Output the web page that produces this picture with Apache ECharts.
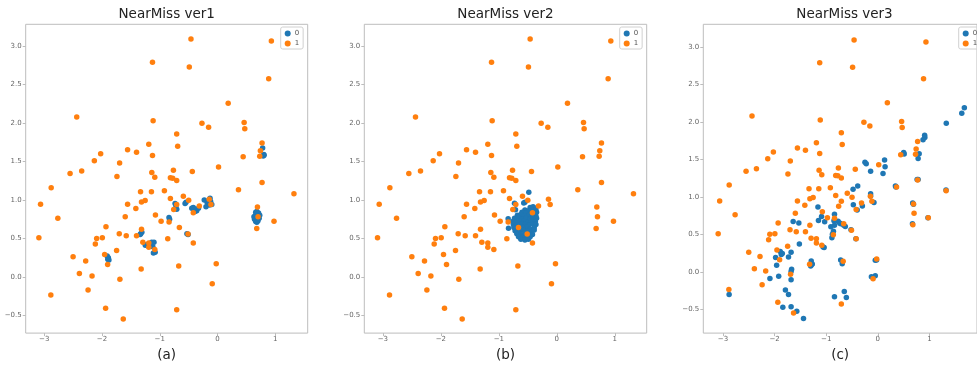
<!DOCTYPE html>
<html>
<head>
<meta charset="utf-8">
<script src="https://cdn.jsdelivr.net/npm/echarts@6/dist/echarts.min.js"></script>
<style>
  html, body { margin: 0; padding: 0; background: #fff; }
  #chart { width: 977px; height: 367px; }
</style>
</head>
<body>
<div id="chart"></div>
<script>
// tick labels and captions
const xTicks = [-3, -2, -1, 0, 1];
const yTicks = [-0.5, 0, 0.5, 1, 1.5, 2, 2.5, 3];
const titles = ["NearMiss ver1", "NearMiss ver2", "NearMiss ver3"];
const captions = ["(a)", "(b)", "(c)"];

// class 1 (minority) - same points in every panel
const class1 = [
  [-1.126, 2.786], [-2.437, 2.077], [-1.115, 2.026], [-1.190, 1.722], [-1.557, 1.650],
  [-1.402, 1.620], [-1.126, 1.577], [-2.023, 1.598], [-2.132, 1.509], [-1.695, 1.479],
  [-2.351, 1.376], [-2.552, 1.342], [-1.138, 1.355], [-1.741, 1.303], [-1.086, 1.295],
  [-2.879, 1.158], [-1.333, 1.107], [-1.144, 1.107], [-0.920, 1.120], [-3.063, 0.944],
  [-1.557, 0.944], [-1.316, 0.974], [-1.253, 0.991], [-1.414, 0.889], [-2.764, 0.761],
  [-1.598, 0.782], [-1.075, 0.803], [-0.977, 0.722], [-1.931, 0.650], [-1.316, 0.620],
  [-1.701, 0.560], [-1.580, 0.534], [-1.402, 0.534], [-3.092, 0.509], [-2.092, 0.500],
  [-1.994, 0.509], [-1.293, 0.449], [-1.190, 0.440], [-2.115, 0.427], [-1.190, 0.385],
  [-1.747, 0.342], [-1.086, 0.355], [-1.954, 0.291], [-2.500, 0.261], [-0.862, 0.496],
  [-2.282, 0.205], [-1.902, 0.162], [-1.322, 0.103], [-2.391, 0.043], [-2.172, 0.013],
  [-1.690, -0.030], [-2.241, -0.171], [-2.885, -0.235], [-1.937, -0.406], [-1.632, -0.547],
  [-0.460, 3.090], [0.931, 3.064], [-0.489, 2.726], [0.885, 2.573], [0.184, 2.256],
  [-0.270, 1.996], [-0.155, 1.944], [0.460, 2.004], [0.471, 1.923], [-0.707, 1.855],
  [-0.690, 1.697], [0.770, 1.739], [0.741, 1.637], [0.730, 1.568], [0.443, 1.560],
  [0.017, 1.427], [-0.764, 1.385], [-0.437, 1.368], [-0.816, 1.286], [-0.776, 1.282],
  [-0.707, 1.252], [0.770, 1.226], [1.322, 1.081], [0.362, 1.132], [-0.592, 1.047],
  [-0.500, 0.996], [-0.816, 1.017], [-0.707, 0.940], [-0.144, 1.009], [-0.115, 0.940],
  [-0.316, 0.919], [-0.759, 0.876], [0.690, 0.906], [-0.420, 0.833], [0.701, 0.782],
  [-0.839, 0.714], [0.977, 0.722], [-0.661, 0.641], [0.678, 0.628], [-0.511, 0.556],
  [-0.420, 0.440], [-0.672, 0.141], [-0.023, 0.171], [-0.092, -0.090], [-0.707, -0.427]
];

// class 0 kept by NearMiss version 1
const ver1Class0 = [
  [-1.91, 0.27], [-1.89, 0.25], [-1.88, 0.22], [-1.90, 0.23],
  [-1.33, 0.56], [-1.31, 0.58], [-1.34, 0.55],
  [-1.25, 0.41], [-1.20, 0.40], [-1.14, 0.45], [-1.10, 0.45], [-1.12, 0.39], [-1.08, 0.32],
  [-1.11, 0.31], [-1.17, 0.42], [-1.22, 0.42],
  [-0.84, 0.77], [-0.83, 0.75],
  [-0.735, 0.953], [-0.706, 0.879], [-0.72, 0.92],
  [-0.562, 0.953], [-0.545, 0.97], [-0.53, 0.56], [-0.51, 0.55],
  [-0.446, 0.89], [-0.42, 0.90], [-0.377, 0.87], [-0.36, 0.86], [-0.39, 0.85], [-0.33, 0.89],
  [-0.40, 0.88],
  [-0.23, 1.00], [-0.18, 0.965], [-0.13, 1.02], [-0.10, 0.94], [-0.20, 0.91], [-0.14, 0.935],
  [-0.16, 0.99], [-0.12, 0.98],
  [0.78, 1.675], [0.80, 1.59], [0.79, 1.57], [0.805, 1.58],
  [0.66, 0.72], [0.68, 0.71], [0.70, 0.73], [0.64, 0.75], [0.72, 0.76], [0.65, 0.79],
  [0.70, 0.79], [0.67, 0.82], [0.71, 0.83], [0.68, 0.85], [0.63, 0.78], [0.73, 0.80],
  [0.69, 0.76], [0.66, 0.84], [0.68, 0.74]
];

// class 0 kept by NearMiss version 2
const ver2Class0 = [
  [-0.483, 1.098], [-0.55, 0.97], [-0.57, 0.96], [-0.73, 0.957], [-0.713, 0.872],
  [-0.839, 0.756], [-0.833, 0.632],
  [-0.46, 0.90], [-0.41, 0.91], [-0.37, 0.89],
  [-0.55, 0.87], [-0.49, 0.86], [-0.44, 0.88], [-0.36, 0.87],
  [-0.60, 0.84], [-0.53, 0.83], [-0.45, 0.85], [-0.39, 0.83], [-0.35, 0.84],
  [-0.68, 0.80], [-0.62, 0.81], [-0.56, 0.79], [-0.48, 0.80], [-0.42, 0.81], [-0.36, 0.79],
  [-0.73, 0.76], [-0.66, 0.77], [-0.60, 0.75], [-0.53, 0.76], [-0.46, 0.75], [-0.40, 0.77], [-0.35, 0.76],
  [-0.76, 0.72], [-0.70, 0.71], [-0.63, 0.73], [-0.57, 0.72], [-0.50, 0.71], [-0.44, 0.73], [-0.37, 0.72],
  [-0.75, 0.68], [-0.68, 0.67], [-0.61, 0.69], [-0.55, 0.68], [-0.48, 0.67], [-0.41, 0.69], [-0.36, 0.68],
  [-0.74, 0.64], [-0.66, 0.63], [-0.59, 0.65], [-0.52, 0.64], [-0.46, 0.62], [-0.39, 0.64],
  [-0.72, 0.60], [-0.64, 0.59], [-0.57, 0.61], [-0.50, 0.60], [-0.43, 0.59], [-0.39, 0.61],
  [-0.69, 0.56], [-0.62, 0.55], [-0.55, 0.57], [-0.48, 0.56], [-0.42, 0.55],
  [-0.66, 0.52], [-0.59, 0.51], [-0.52, 0.53], [-0.46, 0.52],
  [-0.62, 0.49], [-0.55, 0.48], [-0.49, 0.49]
];

// class 0 kept by NearMiss version 3
const ver3Class0 = [
  [-1.16, 0.864], [-1.09, 0.737], [-1.15, 0.684], [-1.03, 0.667], [-0.84, 0.768],
  [-0.85, 0.68], [-0.91, 0.60], [-0.84, 0.62], [-0.88, 0.50], [-0.86, 0.54],
  [-0.89, 0.456], [-0.77, 0.675], [-0.74, 0.65], [-0.72, 0.64], [-0.66, 0.62],
  [-0.63, 0.605], [-1.64, 0.671], [-1.53, 0.653], [-1.52, 0.373], [-1.06, 0.333],
  [-1.04, 0.325], [-1.29, 0.145], [-1.27, 0.105], [-1.30, 0.08], [-1.28, 0.10],
  [-1.98, 0.193], [-1.85, 0.245], [-1.89, 0.27], [-1.87, 0.23], [-1.96, 0.088],
  [-1.68, 0.26], [-1.73, 0.20], [-1.67, 0.035], [-1.68, 0.004], [-1.68, -0.105],
  [-1.92, -0.057], [-2.09, -0.088], [-1.79, -0.24], [-1.73, -0.30], [-1.84, -0.47],
  [-1.68, -0.465], [-1.57, -0.526], [-1.44, -0.62], [-2.88, -0.30], [-0.72, 0.158],
  [-0.69, 0.11], [-0.84, -0.333], [1.675, 2.188], [1.625, 2.114], [1.325, 1.98],
  [0.906, 1.82], [0.91, 1.79], [0.875, 1.76], [0.80, 1.575], [0.78, 1.51],
  [0.50, 1.59], [0.51, 1.57], [0.76, 1.23], [0.78, 1.23], [0.34, 1.145],
  [0.35, 1.13], [1.32, 1.09], [0.675, 0.917], [0.69, 0.90], [0.67, 0.64],
  [0.97, 0.72], [0.13, 1.49], [0.14, 1.40], [0.10, 1.31], [-0.25, 1.46],
  [-0.225, 1.44], [-0.14, 1.34], [-0.39, 1.145], [-0.48, 1.10], [-0.14, 1.04],
  [-0.14, 1.01], [-0.075, 0.925], [-0.475, 0.895], [-0.30, 0.877], [-0.40, 0.825],
  [-0.52, 0.56], [-0.425, 0.44], [-0.05, 0.154], [-0.025, 0.158], [-0.125, -0.066],
  [-0.05, -0.053], [-0.65, -0.26], [-0.61, -0.34]
];

const class0Sets = [ver1Class0, ver2Class0, ver3Class0];

// panel layout (pixels) and axis extents
const panels = [
  { left: 25.7, width: 282, xMin: -3.32, xMax: 1.56, yMin: -0.73, yMax: 3.28 },
  { left: 364.3, width: 282.4, xMin: -3.32, xMax: 1.55, yMin: -0.73, yMax: 3.28 },
  { left: 703.3, width: 282.4, xMin: -3.38, xMax: 1.92, yMin: -0.816, yMax: 3.30 }
];
const gridTop = 24.3;
const gridHeight = 313;

const BLUE = "#1f77b4";
const ORANGE = "#ff7f0e";
const FONT = "DejaVu Sans";

const minus = (s) => s.replace("-", "\u2212");

const chart = echarts.init(document.getElementById("chart"));

const option = {
  animation: false,
  title: panels.map((p, i) => ({
    text: titles[i],
    left: p.left + p.width / 2,
    top: 7,
    textAlign: "center",
    padding: 0,
    textStyle: { fontFamily: FONT, fontSize: 13.5, fontWeight: "normal", color: "#222" },
  })),
  legend: panels.map((p) => ({
    data: ["0", "1"],
    orient: "vertical",
    left: p.left + p.width - 27,
    top: 27,
    icon: "circle",
    itemWidth: 6,
    itemHeight: 6,
    itemGap: 3,
    padding: [3, 4, 2, 4],
    borderColor: "#d0d0d0",
    borderWidth: 1,
    borderRadius: 2,
    selectedMode: false,
    textStyle: { fontFamily: FONT, fontSize: 7, color: "#555", padding: [0, 0, 0, -1] },
  })),
  grid: panels.map((p) => ({
    left: p.left,
    top: gridTop,
    width: p.width,
    height: gridHeight,
    show: true,
    borderColor: "#bdbdbd",
    borderWidth: 1,
    containLabel: false,
  })),
  xAxis: panels.map((p, i) => ({
    type: "value",
    gridIndex: i,
    min: p.xMin,
    max: p.xMax,
    name: captions[i],
    nameLocation: "middle",
    nameGap: 11,
    nameTextStyle: { fontFamily: FONT, fontSize: 13.5, color: "#222" },
    axisLine: { show: false, onZero: false },
    splitLine: { show: false },
    axisTick: { show: true, inside: false, length: 3, customValues: xTicks, lineStyle: { color: "#bdbdbd" } },
    axisLabel: {
      customValues: xTicks,
      margin: 3,
      fontFamily: FONT,
      fontSize: 7,
      color: "#666",
      formatter: (v) => minus(String(v)),
    },
  })),
  yAxis: panels.map((p, i) => ({
    type: "value",
    gridIndex: i,
    min: p.yMin,
    max: p.yMax,
    axisLine: { show: false, onZero: false },
    splitLine: { show: false },
    axisTick: { show: true, inside: false, length: 3, customValues: yTicks, lineStyle: { color: "#bdbdbd" } },
    axisLabel: {
      customValues: yTicks,
      margin: 4,
      fontFamily: FONT,
      fontSize: 7,
      color: "#666",
      formatter: (v) => minus(v.toFixed(1)),
    },
  })),
  series: [],
};

panels.forEach((p, i) => {
  option.series.push({
    name: "0",
    type: "scatter",
    xAxisIndex: i,
    yAxisIndex: i,
    symbolSize: 5.5,
    itemStyle: { color: BLUE, opacity: 1 },
    data: class0Sets[i],
  });
  option.series.push({
    name: "1",
    type: "scatter",
    xAxisIndex: i,
    yAxisIndex: i,
    symbolSize: 5.5,
    itemStyle: { color: ORANGE, opacity: 1 },
    data: class1,
  });
});

chart.setOption(option);

window.addEventListener("resize", () => {
  chart.resize();
});
</script>
</body>
</html>
